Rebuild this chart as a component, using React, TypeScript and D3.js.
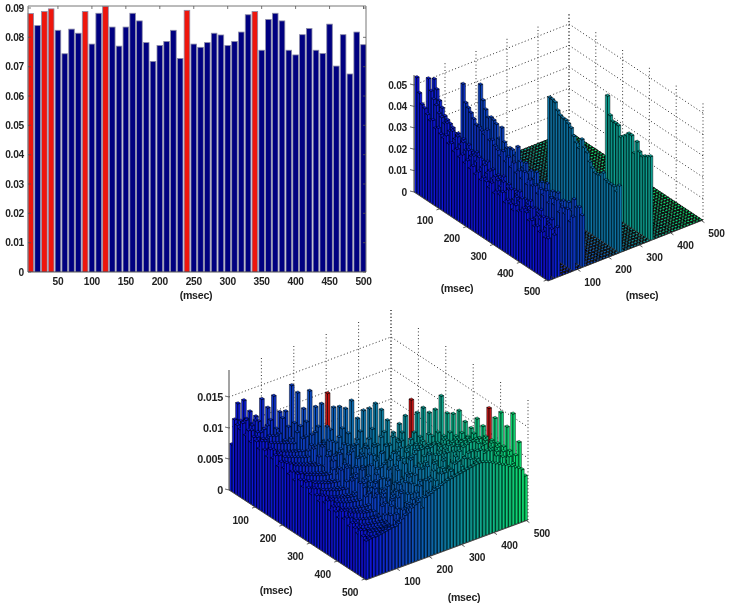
import React from "react";
import * as d3 from "d3";

const histX = [10,20,30,40,50,60,70,80,90,100,110,120,130,140,150,160,170,180,190,200,210,220,230,240,250,260,270,280,290,300,310,320,330,340,350,360,370,380,390,400,410,420,430,440,450,460,470,480,490,500];
const histValues = [.0881,.0840,.0888,.0897,.0824,.0744,.0828,.0814,.0888,.0777,.0882,.0906,.0835,.0770,.0835,.0882,.0856,.0782,.0718,.0772,.0786,.0824,.0728,.0892,.0777,.0766,.0782,.0814,.0808,.0772,.0786,.0818,.0877,.0888,.0756,.0861,.0882,.0856,.0756,.0740,.0809,.0830,.0756,.0745,.0845,.0702,.0809,.0675,.0818,.0775];
const redBins = [10,30,40,90,120,240,340];
const histTicksX = [50,100,150,200,250,300,350,400,450,500];
const histTicksY = [0,.01,.02,.03,.04,.05,.06,.07,.08,.09];
const axisTicks = [100,200,300,400,500];
const midTicksZ = [0,.01,.02,.03,.04,.05];
const lowTicksZ = [0,.005,.01,.015];

// Middle plot, values in 1e-3, each from Y = X up to 500
const mid10 = [54,47.5,43,42,40,38,39,36,37,35,34,36,33,34,31,33,30,32,29,31,28,30,27,29,26,28,27,25,28,24,26,25,27,23,25,24,22,25,23,24,26,25,22,23,21,22,20,21,19,19.5];
const mid30 = [54,49,46,44,41,40,38,39,36,37,34,36,33,35,32,33,31,32,30,33,29,31,28,30,27,29,28,26,29,25,27,28,24,26,25,27,23,25,24,26,22,24,23,25,21,23,22,20];
const mid40 = [54,50,45.5,43,40,39,38,37,35,36,34,35,33,34,32,31,33,30,31,29,32,28,30,27,29,28,30,26,28,25,27,26,28,24,26,25,27,23,25,24,26,22,24,23,25,21,23];
const mid90 = [53,45,43.5,42,40,38,38,37,36,39,35,36,34,33,31,34,30,33,29,32,28,30,27,31,26,29,27,28,25,28,26,29,24,27,25,28,23,26,24,27,22,25];
const mid120 = [53.5,47,43.5,40.5,41.5,41,40,34,40,34,32,33,33,31,36,30,28,31,27,29,26,30,25,27,24,28,23,26,24,27,23,25,22,26,23,29,26,27,24];
const mid240 = [50.6,50.5,50,47,45.5,45,45,44.2,43,40,37.8,36,41,38,36.5,33,31,29.5,29.5,30,32,29.5,29,29,29,27.5,31];
const mid340 = [54,45.7,43.6,43.7,43.5,38.8,40,41.3,43,43,35.5,41.6,37.8,36.4,37.4,38,39];
const midColumns: [number, number[]][] = [[10,mid10],[30,mid30],[40,mid40],[90,mid90],[120,mid120],[240,mid240],[340,mid340]];

// Lower plot, values in 1e-4; row k holds X = 10(k+1), Y from X up to 500
const lowRows = [
[75,118,112,108,121,104,115,99,110,106, 97,112,101,93,108,96,104,89,99,92, 103,88,95,84,97,90,82,93,86,79, 91,83,76,88,80,86,73,82,77,70, 84,74,79,68,76,71,65,73,66,62],
[142,117,109,124,101,113,96,108,104,92, 110,99,91,105,94,102,87,97,90,100, 85,93,82,96,88,80,92,84,77,89, 81,75,86,78,84,71,80,75,68,82, 72,77,66,74,69,63,71,65,63],
[148,121,107,116,99,111,94,106,101,90, 108,97,92,103,89,100,85,95,88,98, 83,91,80,94,86,78,90,82,75,87, 79,73,84,76,82,70,78,73,66,80, 70,75,65,72,67,62,69,64],
[131,114,122,98,109,92,104,99,88,106, 95,90,101,87,98,83,93,86,96,81, 89,78,92,84,76,88,80,73,85,77, 72,82,74,80,68,76,71,65,78,68, 73,63,70,66,61,68,63],
[124,119,101,112,95,107,97,86,104,93, 88,99,85,96,81,91,84,94,79,87, 76,90,82,75,86,78,72,83,75,70, 80,72,78,67,74,69,64,76,67,71, 62,69,65,60,67,64],
[153,108,116,93,105,95,84,102,91,86, 97,83,94,80,89,82,92,78,85,75, 88,80,73,84,76,70,81,73,69,78, 71,76,65,72,68,63,74,66,70,61, 68,64,60,66,65],
[140,123,96,103,93,83,100,89,84,95, 81,92,78,87,80,90,76,83,73,86, 78,72,82,75,69,79,72,68,76,70, 75,64,71,67,62,72,65,68,60,67, 63,60,65,66],
[160,110,105,91,82,98,87,83,93,80, 90,77,85,79,88,75,82,72,84,77, 71,81,74,68,78,71,67,75,69,74, 64,70,66,62,71,64,67,60,66,62, 61,64,67],
[135,128,95,86,96,86,82,92,79,88, 76,84,78,86,74,80,71,83,76,70, 80,73,67,77,70,66,74,68,73,63, 69,65,62,70,64,66,60,65,62,61, 64,68],
[137,115,99,94,85,81,90,78,87,75, 83,77,85,73,79,70,82,75,69,79, 72,67,76,69,66,73,68,72,63,68, 65,62,69,64,66,61,65,63,62,65, 68],
[180,122,110,78,106,61,92,70,101,58, 94,66,84,103,55,88,72,52,96,64, 83,49,90,74,60,95,57,79,68,48, 86,63,52,81,70,46,75,58,72,71],
[169,118,92,107,64,99,57,85,74,108, 62,90,52,97,79,56,88,69,100,50, 77,92,54,71,86,47,82,66,58,90, 49,73,84,55,69,50,78,60,76],
[144,126,71,111,96,59,104,82,53,93, 76,100,61,86,50,98,67,83,54,94, 72,48,88,63,79,52,91,56,74,85, 47,68,80,53,72,59,66,80],
[174,105,113,66,88,102,58,97,71,87, 55,104,78,62,94,49,85,100,60,73, 90,51,82,67,95,48,76,87,57,70, 84,50,77,62,81,58,82],
[149,120,84,100,62,109,74,91,56,99, 68,83,107,52,90,72,61,97,80,50, 86,69,93,54,78,88,47,72,83,60, 90,52,74,66,84,88],
[155,98,124,60,105,80,67,102,54,91, 78,110,59,86,70,96,51,88,75,62, 99,55,81,68,92,49,84,73,58,95, 56,78,86,64,91],
[173,117,76,102,89,57,108,72,95,61, 85,100,53,92,74,66,103,50,84,90, 58,77,96,63,71,88,55,94,67,80, 60,92,72,93],
[151,93,109,68,98,83,54,106,75,60, 101,87,56,94,70,80,98,52,89,63, 93,76,57,85,97,61,74,90,54,84, 68,95,82],
[153,121,66,100,60,105,88,72,51,97, 82,108,63,90,55,99,74,66,104,59, 86,92,57,78,101,64,88,53,96,72, 62,97],
[151,114,90,58,105,73,96,63,110,80, 54,99,86,68,102,57,92,77,61,107, 84,55,94,71,100,60,88,105,66,83, 98],
[165,85,108,96,62,104,78,55,100,90, 66,112,59,83,97,72,106,56,91,80, 64,103,75,95,58,108,86,70,99,100],
[137,119,68,102,85,58,109,76,98,64, 95,54,105,84,70,113,62,91,100,58, 88,107,74,95,66,110,82,94,103],
[151,99,111,62,108,88,72,104,56,96, 82,114,66,92,60,109,78,99,68,115, 58,95,86,74,106,64,102,104],
[155,125,70,105,88,60,112,84,99,66, 108,76,58,103,92,116,64,86,110,72, 97,60,107,82,94,70,107],
[164,100,116,74,109,64,96,86,110,62, 105,90,70,115,60,99,82,108,66,118, 88,72,104,94,68,109],
[155,122,78,107,66,102,93,114,68,88, 106,62,118,84,96,72,110,64,103,112, 76,90,116,70,111],
[139,103,118,72,115,90,64,108,96,74, 120,68,104,88,112,70,98,118,66,108, 84,116,92,112],
[120,113,80,116,69,110,92,75,107,118, 66,100,84,122,72,96,110,70,115,86, 103,119,113],
[135,124,76,105,112,70,118,92,64,109, 96,120,74,113,84,105,122,68,100,116, 86,114],
[149,100,117,82,116,72,113,94,120,68, 105,118,78,98,122,70,110,88,124,92, 115],
[176,126,86,112,74,115,98,120,70,108, 116,80,124,94,72,118,102,126,84,116],
[156,120,116,78,117,92,122,72,118,100, 84,124,104,74,126,92,116,108,117],
[165,103,128,88,119,74,120,102,122,80, 112,126,76,118,98,127,90,118],
[158,123,94,118,80,121,106,126,76,116, 100,128,88,120,82,127,119],
[164,130,84,124,106,78,122,108,128,86, 118,96,129,82,122,120],
[187,125,121,90,124,82,126,110,128,88, 120,130,94,124,120],
[160,132,96,126,86,128,112,130,92,122, 108,131,100,119],
[160,127,124,88,129,104,132,94,124,110, 131,100,117],
[166,133,98,130,92,131,112,134,96,124, 108,115],
[149,128,126,96,133,104,128,94,126,100, 112],
[140,134,100,132,98,129,106,124,96,109],
[156,128,106,130,98,124,96,117,106],
[145,131,100,127,96,119,90,103],
[175,126,110,121,102,111,101],
[160,122,106,115,95,97],
[170,118,100,108,95],
[148,112,95,91],
[170,106,88],
[125,84],
[72],
];
const lowRed = [170,310,440];

const FONT = "'Liberation Sans', Arial, sans-serif";
const winter = (X: number) => {
  const t = d3.scaleLinear([10, 500], [0, 1])(X);
  return d3.rgb(12, 20 + 205 * t, 215 - 105 * t).formatHex();
};
const poly = d3.line();

type Pt = [number, number];
type Scene = { O: Pt; B: Pt; R: Pt; zPx: (v: number) => number; zTop: number };

function project(s: Scene) {
  const bin = d3.scaleLinear([0, 500], [0, 50]);
  const ux = (s.R[0] - s.B[0]) / 50, uy = (s.R[1] - s.B[1]) / 50;
  const vx = (s.B[0] - s.O[0]) / 50, vy = (s.B[1] - s.O[1]) / 50;
  return (X: number, Y: number, z = 0): Pt => {
    const u = bin(X), v = bin(Y);
    return [s.O[0] + ux * u + vx * v, s.O[1] + uy * u + vy * v - z];
  };
}

function barPath(p: (X: number, Y: number, z?: number) => Pt, X: number, Y: number, h: number) {
  const x0 = X - 9, x1 = X - 1, y0 = Y - 9, y1 = Y - 1;
  const top = [p(x0, y0, h), p(x1, y0, h), p(x1, y1, h), p(x0, y1, h)];
  if (h <= 0) return poly(top)! + "Z";
  const left = [p(x0, y0, 0), p(x0, y1, 0), p(x0, y1, h), p(x0, y0, h)];
  const right = [p(x0, y1, 0), p(x1, y1, 0), p(x1, y1, h), p(x0, y1, h)];
  return poly(left)! + "Z" + poly(right)! + "Z" + poly(top)! + "Z";
}

const TXT = { fontFamily: FONT, fontWeight: "bold", fill: "#222", letterSpacing: -0.25 } as const;

function Frame3D({ s, ticksZ, fmtSize, labelSize, lo, ro, mL, mR, children, zLabelEnd }: any) {
  const p = project(s);
  const K: Pt = [s.O[0] + s.R[0] - s.B[0], s.O[1] + s.R[1] - s.B[1]];
  const grid = { stroke: "#333", strokeWidth: 1, strokeDasharray: "1 2.4", fill: "none" };
  return (
    <g>
      {ticksZ.map((t: number) => {
        const z = s.zPx(t);
        return <path key={"h" + t} {...grid} d={poly([[s.O[0], s.O[1] - z], [K[0], K[1] - z], [s.R[0], s.R[1] - z]])!} />;
      })}
      {axisTicks.map((t) => {
        const a = p(t, 0);
        const b: Pt = [K[0] + (s.B[0] - s.O[0]) * t / 500, K[1] + (s.B[1] - s.O[1]) * t / 500];
        return (
          <g key={"v" + t}>
            <path {...grid} d={poly([a, [a[0], a[1] - s.zTop]])!} />
            <path {...grid} d={poly([b, [b[0], b[1] - s.zTop]])!} />
          </g>
        );
      })}
      <path {...grid} d={poly([K, [K[0], K[1] - s.zTop]])!} />
      {children}
      <path fill="none" stroke="#666" strokeWidth={1.2} d={poly([[s.O[0], s.O[1]], [s.O[0], s.O[1] - s.zTop]])!} />
      <path fill="none" stroke="#333" strokeWidth={0.8} d={poly([s.O, s.B, s.R])!} />
      {ticksZ.map((t: number) => {
        const y = s.O[1] - s.zPx(t);
        return (
          <g key={"z" + t}>
            <path stroke="#444" strokeWidth={0.8} d={poly([[s.O[0] - 4, y - 1], [s.O[0], y]])!} />
            <text {...TXT} x={zLabelEnd} y={y} dy="0.36em" textAnchor="end" fontSize={fmtSize}>{t === 0 ? "0" : String(t)}</text>
          </g>
        );
      })}
      {axisTicks.map((t) => {
        const a = p(t - 5, 500);
        const b2 = p(0, t - 5);
        return (
          <g key={"l" + t}>
            <path stroke="#333" strokeWidth={0.8} d={poly([a, [a[0] + 3, a[1] + 2]])!} />
            <path stroke="#333" strokeWidth={0.8} d={poly([b2, [b2[0] - 3, b2[1] + 1]])!} />
            <text {...TXT} x={a[0] + ro[0]} y={a[1] + ro[1]} dy="0.36em" textAnchor="middle" fontSize={labelSize}>{t}</text>
            <text {...TXT} x={b2[0] + lo[0]} y={b2[1] + lo[1]} dy="0.36em" textAnchor="middle" fontSize={labelSize}>{t}</text>
          </g>
        );
      })}
      <text {...TXT} x={mL[0]} y={mL[1]} dy="0.36em" textAnchor="middle" fontSize={10.6}>(msec)</text>
      <text {...TXT} x={mR[0]} y={mR[1]} dy="0.36em" textAnchor="middle" fontSize={10.6}>(msec)</text>
    </g>
  );
}

const EDGE = { stroke: "#000", strokeWidth: 0.5, strokeOpacity: 0.85 };
const FLOOR = { stroke: "#000", strokeWidth: 0.95 };

function Histogram() {
  const x = d3.scaleLinear([0, 500], [24, 363.5]);
  const y = d3.scaleLinear([0, 0.09], [272, 8]);
  const left = 28, right = 366, top = 6, bottom = 272;
  return (
    <g>
      <clipPath id="hclip"><rect x={left - 1} y={top} width={right - left + 1} height={bottom - top} /></clipPath>
      <g clipPath="url(#hclip)">
        {histX.map((v, i) => (
          <rect key={v} x={x(v) - 2.8} y={y(histValues[i])} width={5.6} height={bottom - y(histValues[i])}
            fill={redBins.includes(v) ? "#ee1208" : "#000080"} stroke="#8c8ca8" strokeWidth={0.8} />
        ))}
      </g>
      <path d={`M${left},${bottom}V${top}H${right}V${bottom}`} fill="none" stroke="#777" strokeWidth={1} />
      <path d={`M${left},${bottom}H${right}`} fill="none" stroke="#333" strokeWidth={0.8} />
      {histTicksY.map((t) => (
        <g key={t}>
          <path d={`M${left},${y(t)}h3M${right},${y(t)}h-3`} stroke="#555" strokeWidth={0.8} />
          <text {...TXT} x={24} y={y(t)} dy="0.36em" textAnchor="end" fontSize={10.2}>{t === 0 ? "0" : t.toFixed(2)}</text>
        </g>
      ))}
      {histTicksX.map((t) => (
        <g key={t}>
          <path d={`M${x(t)},${top}v3`} stroke="#555" strokeWidth={0.8} />
          <text {...TXT} x={x(t)} y={281} dy="0.36em" textAnchor="middle" fontSize={10.2}>{t}</text>
        </g>
      ))}
      <text {...TXT} x={196} y={295} dy="0.36em" textAnchor="middle" fontSize={10.6}>(msec)</text>
    </g>
  );
}

function MidPlot() {
  const z = d3.scaleLinear([0, 0.05], [0, 107]);
  const s: Scene = { O: [414, 192], B: [548, 281], R: [703, 220], zPx: z, zTop: 117 };
  const p = project(s);
  const height = new Map<string, number>();
  midColumns.forEach(([X, vals]) => vals.forEach((v, i) => height.set(X + "," + (X + i * 10), v / 1000)));
  const cells: { X: number; Y: number; h: number }[] = [];
  for (let X = 500; X >= 10; X -= 10) for (let Y = 10; Y <= 500; Y += 10) cells.push({ X, Y, h: height.get(X + "," + Y) ?? 0 });
  return (
    <Frame3D s={s} ticksZ={midTicksZ} fmtSize={10.2} labelSize={10.2} lo={[-14.5, 11.5]} ro={[15, 12.5]} mL={[457, 288]} mR={[642, 295]} zLabelEnd={407}>
      {cells.map((c) => (
        <path key={c.X + "_" + c.Y} d={barPath(p, c.X, c.Y, z(c.h))} fill={winter(c.X)} {...(c.h > 0 ? EDGE : FLOOR)} />
      ))}
    </Frame3D>
  );
}

function LowPlot() {
  const z = d3.scaleLinear([0, 0.015], [0, 93]);
  const s: Scene = { O: [229, 490], B: [366, 580], R: [528, 520], zPx: z, zTop: 120 };
  const p = project(s);
  const cells: { X: number; Y: number; h: number }[] = [];
  for (let k = lowRows.length - 1; k >= 0; k--) {
    const X = (k + 1) * 10;
    lowRows[k].forEach((v, j) => cells.push({ X, Y: X + j * 10, h: v / 10000 }));
  }
  return (
    <Frame3D s={s} ticksZ={lowTicksZ} fmtSize={10.8} labelSize={10.2} lo={[-14.5, 13]} ro={[15.5, 13]} mL={[276, 590]} mR={[464, 597]} zLabelEnd={223}>
      {cells.map((c) => (
        <path key={c.X + "_" + c.Y} d={barPath(p, c.X, c.Y, z(c.h))}
          fill={lowRed.includes(c.X) && c.X === c.Y ? "#c01515" : winter(c.X)} {...EDGE} />
      ))}
    </Frame3D>
  );
}

export default function App() {
  return (
    <svg width={729} height={607} viewBox="0 0 729 607" style={{ position: "absolute", left: 0, top: 0, background: "#fff" }}>
      <defs>
        <filter id="soft" x="0" y="0" width="100%" height="100%">
          <feGaussianBlur stdDeviation="0.4" />
        </filter>
      </defs>
      <g filter="url(#soft)">
        <rect width={729} height={607} fill="#fff" />
        <Histogram />
        <MidPlot />
        <LowPlot />
      </g>
    </svg>
  );
}
